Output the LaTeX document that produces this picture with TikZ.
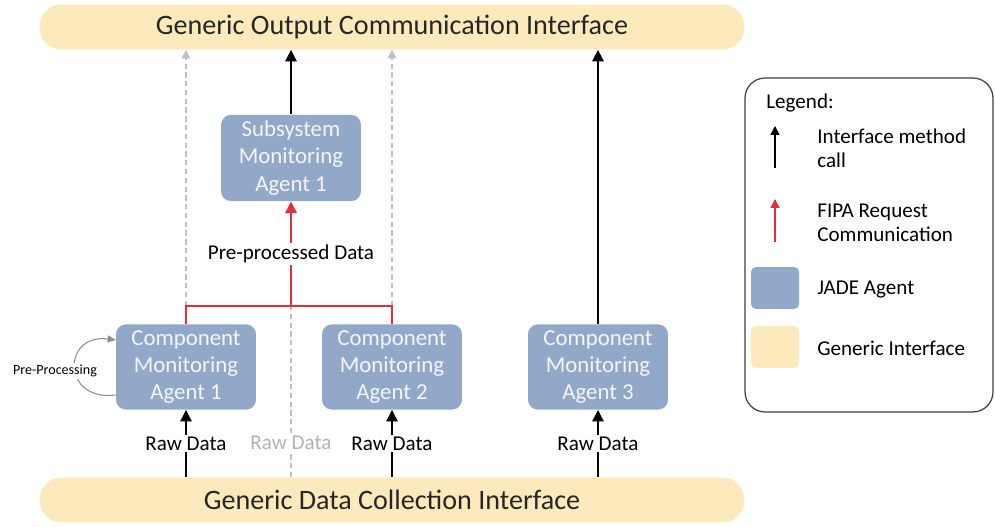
\documentclass[tikz,border=0pt]{standalone}
\usepackage{fontspec}
\setmainfont{Carlito}
\usetikzlibrary{arrows.meta}
\definecolor{agentblue}{RGB}{146,168,201}
\definecolor{ifyellow}{RGB}{252,234,188}
\definecolor{fipared}{RGB}{226,48,58}
\definecolor{bypassgray}{RGB}{192,192,196}

\begin{document}
\begin{tikzpicture}[x=0.02cm,y=-0.02cm,
    agent/.style={fill=agentblue,rounded corners=0.2cm,minimum width=2.8cm,minimum height=1.7cm,align=center,text=white!90!agentblue,font=\fontsize{13}{15.6}\selectfont},
    iface/.style={fill=ifyellow,rounded corners=0.44cm,minimum width=14.1cm,minimum height=0.9cm,text=black!85,font=\fontsize{16}{19}\selectfont},
    call/.style={-{Triangle[length=2.3mm,width=2.3mm]},line width=0.8pt},
    fipa/.style={fipared,line width=0.8pt},
    bypass/.style={bypassgray,dash pattern=on 3pt off 2pt,line width=0.6pt},
    lbl/.style={fill=white,inner sep=1pt,text=black,font=\fontsize{12}{13.5}\selectfont},
    ]
    \useasboundingbox (0,0) rectangle (995,527);
    \node[iface] (outif) at (392,27) {Generic Output Communication Interface};
    \node[iface] (collif) at (392,500) {Generic Data Collection Interface};
    \node[agent] (sma1) at (291,158) {Subsystem\\Monitoring\\Agent 1};
    \node[agent] (cma1) at (186,367) {Component\\Monitoring\\Agent 1};
    \node[agent] (cma2) at (392,367) {Component\\Monitoring\\Agent 2};
    \node[agent] (cma3) at (598,367) {Component\\Monitoring\\Agent 3};
    \coordinate (bus) at (291,306);

    \draw[call] (sma1) -- (sma1 |- outif.south);
    \draw[call] (cma3) -- (cma3 |- outif.south);
    \foreach \a in {cma1,cma2}
        \draw[bypass,-{Triangle[length=1.7mm,width=1.7mm]}] (\a |- bus) -- (\a |- outif.south);
    \draw[bypass] (collif.north -| bus) -- node[lbl,pos=0.2,text=black!30] {Raw Data} (bus);
    \draw[fipa] (cma1) |- (bus) -| (cma2);
    \draw[fipa,-{Triangle[length=2.3mm,width=2.3mm]}] (bus) -- node[lbl] {Pre-processed Data} (sma1);
    \foreach \a in {cma1,cma2,cma3}
        \draw[call] (\a |- collif.north) -- node[lbl] {Raw Data} (\a);

    \draw[black!45,line width=0.6pt,-{Triangle[length=1.6mm,width=1.4mm]}] ([yshift=-0.56cm]cma1.west)
        .. controls ([xshift=-1.08cm,yshift=-0.7cm]cma1.west) and ([xshift=-1.08cm,yshift=0.68cm]cma1.west) .. ([yshift=0.54cm]cma1.west);
    \node[lbl,font=\fontsize{8}{10}\selectfont] (preproc) at (55,371) {Pre-Processing};

    \node[draw=black!75,line width=0.7pt,rounded corners=0.4cm,minimum width=4.96cm,minimum height=6.68cm] (legend) at (869,245) {};
    \node[lbl,anchor=west,inner sep=0pt] (legtitle) at (766,103) {Legend:};
    \coordinate (k1) at (775,168);
    \coordinate (k1t) at (775,126);
    \coordinate (k2) at (775,242);
    \coordinate (k2t) at (775,199);
    \draw[line width=0.8pt,-{Triangle[length=1.8mm,width=1.8mm]}] (k1) -- (k1t);
    \draw[fipa,-{Triangle[length=1.8mm,width=1.8mm]}] (k2) -- (k2t);
    \node[fill=agentblue,rounded corners=0.1cm,minimum width=0.96cm,minimum height=0.84cm] (kagent) at (775,288) {};
    \node[fill=ifyellow,rounded corners=0.1cm,minimum width=0.96cm,minimum height=0.84cm] (kiface) at (775,347) {};
    \node[lbl,anchor=west,align=left,inner sep=0pt] (leg1) at (817,148) {Interface method\\call};
    \node[lbl,anchor=west,align=left,inner sep=0pt] (leg2) at (817,223) {FIPA Request\\Communication};
    \node[lbl,anchor=west,inner sep=0pt] (leg3) at (817,290) {JADE Agent};
    \node[lbl,anchor=west,inner sep=0pt] (leg4) at (817,348) {Generic Interface};
\end{tikzpicture}
\end{document}
